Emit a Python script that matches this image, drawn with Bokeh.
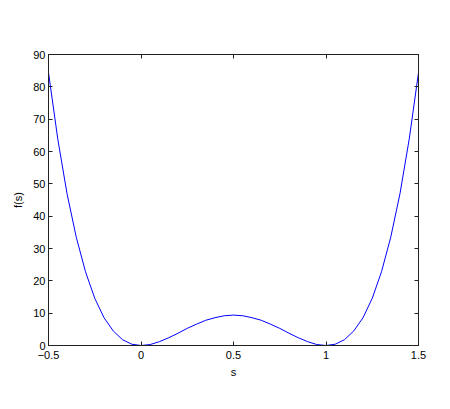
from bokeh.plotting import figure
from bokeh.models import Range1d, FixedTicker, LinearAxis
from bokeh.embed import file_html
from bokeh.resources import INLINE

# values
s_vals = [-0.5, -0.45, -0.4, -0.35, -0.3, -0.25, -0.2, -0.15, -0.1, -0.05,
          0.0, 0.05, 0.1, 0.15, 0.2, 0.25, 0.3, 0.35, 0.4, 0.45,
          0.5, 0.55, 0.6, 0.65, 0.7, 0.75, 0.8, 0.85, 0.9, 0.95,
          1.0, 1.05, 1.1, 1.15, 1.2, 1.25, 1.3, 1.35, 1.4, 1.45, 1.5]
f_vals = [84.4, 63.9, 47.0, 33.5, 22.8, 14.6, 8.6, 4.5, 1.8, 0.4,
          0.0, 0.3, 1.2, 2.4, 3.8, 5.3, 6.6, 7.8, 8.6, 9.2,
          9.4, 9.2, 8.6, 7.8, 6.6, 5.3, 3.8, 2.4, 1.2, 0.3,
          0.0, 0.4, 1.8, 4.5, 8.6, 14.6, 22.8, 33.5, 47.0, 63.9, 84.4]
x_ticks = [-0.5, 0, 0.5, 1, 1.5]
x_tick_labels = ["\u22120.5", "0", "0.5", "1", "1.5"]
y_ticks = [0, 10, 20, 30, 40, 50, 60, 70, 80, 90]

FONT = "Liberation Sans"

p = figure(width=442, height=401, output_backend="svg", toolbar_location=None,
           x_range=Range1d(-0.5, 1.5), y_range=Range1d(0, 90),
           min_border_left=48, min_border_right=24, min_border_top=54, min_border_bottom=56)
p.xgrid.visible = False
p.ygrid.visible = False
p.outline_line_color = "#222222"
p.outline_line_width = 1
p.background_fill_color = "white"
p.border_fill_color = "white"

p.line(s_vals, f_vals, line_color="#0000ff", line_width=1)

def style(ax, labels=True):
    ax.major_tick_in = 4
    ax.major_tick_out = 0
    ax.minor_tick_in = 0
    ax.minor_tick_out = 0
    ax.axis_line_color = "#222222"
    ax.major_tick_line_color = "#222222"
    ax.major_label_text_font = FONT
    ax.major_label_text_font_size = "11px"
    ax.major_label_text_color = "black"
    ax.axis_label_text_font = FONT
    ax.axis_label_text_font_size = "11px"
    ax.axis_label_text_font_style = "normal"
    ax.axis_label_text_color = "black"
    if not labels:
        ax.major_label_overrides = {t: "" for t in ax.ticker.ticks}
        ax.major_label_standoff = 0

xa = p.xaxis[0]
xa.ticker = FixedTicker(ticks=x_ticks)
xa.major_label_overrides = {t: l for t, l in zip(x_ticks, x_tick_labels)}
xa.axis_label = "s"
style(xa)
xa.major_label_standoff = 5
xa.axis_label_standoff = 4

ya = p.yaxis[0]
ya.ticker = FixedTicker(ticks=y_ticks)
ya.axis_label = "f(s)"
style(ya)
ya.major_label_standoff = 3
ya.axis_label_standoff = 6

top = LinearAxis(ticker=FixedTicker(ticks=x_ticks))
style(top, labels=False)
p.add_layout(top, "above")
right = LinearAxis(ticker=FixedTicker(ticks=y_ticks))
style(right, labels=False)
p.add_layout(right, "right")

open("out.html", "w").write(file_html(p, INLINE))
